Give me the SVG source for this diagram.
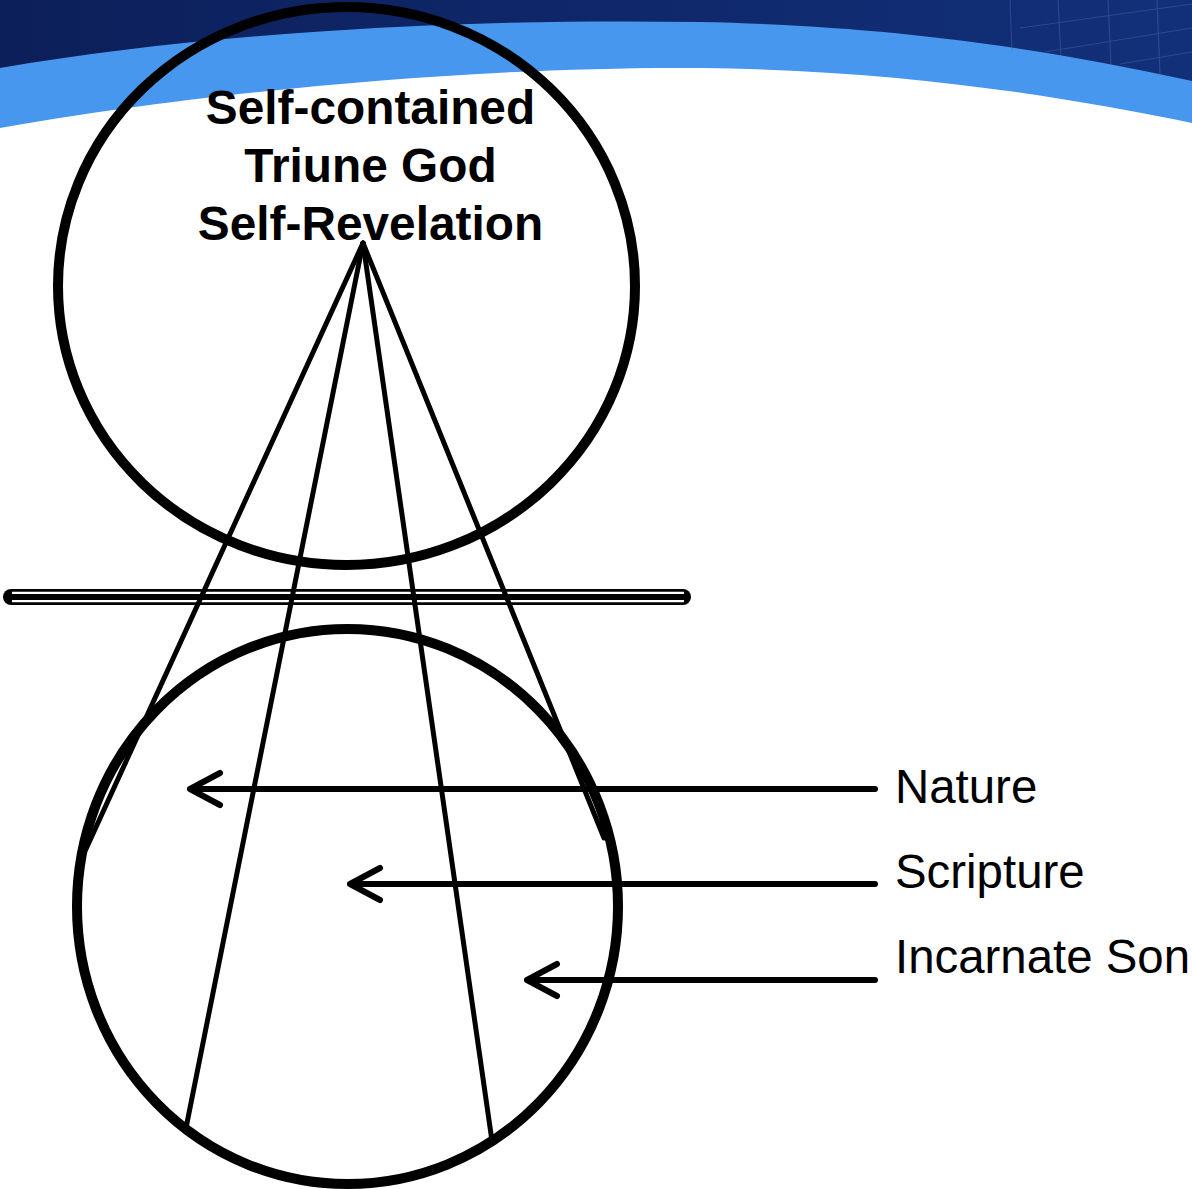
<svg xmlns="http://www.w3.org/2000/svg" width="1192" height="1189" viewBox="0 0 1192 1189">
<style>
.circ{fill:none;stroke:#000;stroke-width:10}
.ray{stroke:#000;stroke-width:5;stroke-linecap:round;fill:none}
.arr{stroke:#000;stroke-width:6;stroke-linecap:round;stroke-linejoin:round;fill:none}
.title{font-family:"Liberation Sans",Arial,sans-serif;font-weight:bold;font-size:47.8px;text-anchor:middle;fill:#000}
.lbl{font-family:"Liberation Sans",Arial,sans-serif;font-size:47.4px;fill:#000}
</style>
<defs>
<linearGradient id="navy" x1="0" y1="0" x2="1" y2="0">
<stop offset="0" stop-color="#0c1f5a"/>
<stop offset="1" stop-color="#12307a"/>
</linearGradient>
</defs>
<rect width="1192" height="1189" fill="#fff"/>
<g id="banner">
<path d="M0 0H1192V123C1060 96 900 70 700 68C480 66 200 92 0 128Z" fill="#4797ef"/>
<path d="M0 0H1192V81C1050 50 900 26 700 22C450 18 200 34 0 68Z" fill="url(#navy)"/>
<g stroke="#5a78b8" stroke-width="1.2" opacity="0.35">
<line x1="1010" y1="0" x2="1012" y2="52"/>
<line x1="1058" y1="0" x2="1061" y2="58"/>
<line x1="1108" y1="0" x2="1111" y2="66"/>
<line x1="1157" y1="0" x2="1160" y2="74"/>
<line x1="1020" y1="28" x2="1192" y2="4"/>
<line x1="1045" y1="52" x2="1192" y2="28"/>
<line x1="1120" y1="64" x2="1192" y2="52"/>
</g>
</g>
<g id="barrier">
<line x1="11" y1="597" x2="683" y2="597" stroke="#000" stroke-width="16" stroke-linecap="round"/>
<line x1="12" y1="597" x2="684" y2="597" stroke="#fff" stroke-width="10.6"/>
<line x1="6" y1="597" x2="688" y2="597" stroke="#000" stroke-width="6"/>
</g>
<g id="upper-circle">
<ellipse class="circ" cx="346.5" cy="286" rx="288.5" ry="279"/>
<text class="title" x="370.5" y="124">Self-contained</text>
<text class="title" x="370.5" y="182">Triune God</text>
<text class="title" x="370.5" y="240">Self-Revelation</text>
</g>
<g id="lower-circle">
<ellipse class="circ" cx="347.5" cy="906.5" rx="270.5" ry="277.5"/>
</g>
<g id="connectors">
<line class="ray" x1="363" y1="243" x2="86" y2="849"/>
<line class="ray" x1="363" y1="243" x2="186" y2="1128"/>
<line class="ray" x1="363" y1="243" x2="492" y2="1141"/>
<line class="ray" x1="363" y1="243" x2="604" y2="838"/>
<path class="arr" d="M875 789H190M220 773L190 789L220 805"/>
<path class="arr" d="M875 884H350M380 868L350 884L380 900"/>
<path class="arr" d="M875 980H527M557 964L527 980L557 996"/>
</g>
<g id="label-nature"><text class="lbl" x="895" y="803">Nature</text></g>
<g id="label-scripture"><text class="lbl" x="895" y="888">Scripture</text></g>
<g id="label-son"><text class="lbl" x="895" y="973">Incarnate Son</text></g>
</svg>
